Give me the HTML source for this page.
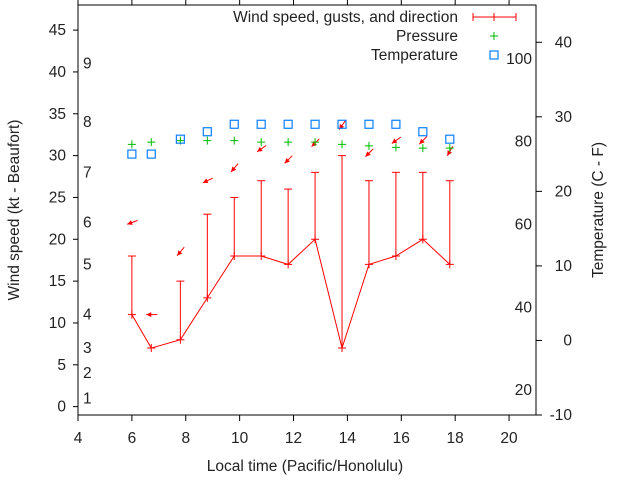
<!DOCTYPE html>
<html><head><meta charset="utf-8"><style>
body{margin:0;background:#fff}
svg{display:block;font-family:"Liberation Sans",sans-serif;font-size:15.5px;fill:#222}
</style></head><body>
<svg id="chart" width="640" height="480" viewBox="0 0 640 480" xmlns="http://www.w3.org/2000/svg"></svg>
<script>
const times=[6.0,6.72,7.8,8.8,9.8,10.8,11.8,12.8,13.8,14.8,15.8,16.8,17.8];
const speeds=[11,7,8,13,18,18,17,20,7,17,18,20,17];
const gusts=[18,null,15,23,25,27,26,28,30,27,28,28,27];
const pressure=[26.3,26.6,26.8,26.8,26.8,26.6,26.6,26.6,26.3,26.1,25.9,25.8,25.8];
const temperature=[25,25,27,28,29,29,29,29,29,29,29,28,27];
const arrowY=[22,11,18.5,27,28.5,30.8,29.5,31.5,33.6,30.3,31.8,31.8,30.5];
const arrowDir=[70,90,40,65,40,55,45,45,35,45,55,45,30];
const xTicks=[4,6,8,10,12,14,16,18,20];
const yTicks=[0,5,10,15,20,25,30,35,40,45];
const y2Ticks=[-10,0,10,20,30,40];
const fTicks=[20,40,60,80,100];
const beaufort=[1,2,3,4,5,6,7,8,9];
const beaufortKt=[1,4,7,11,17,22,28,34,41];

const NS='http://www.w3.org/2000/svg';
const svg=document.getElementById('chart');
const L=78,R=536,T=5,B=415;
const xs=v=>L+(v-4)/(21-4)*(R-L);
const ys=v=>B-(v+1)/(48+1)*(B-T);
const y2=v=>B-(v+10)/(45+10)*(B-T);
function mk(tag,attrs,parent){const e=document.createElementNS(NS,tag);for(const k in attrs)e.setAttribute(k,attrs[k]);(parent||svg).appendChild(e);return e;}
function txt(s,x,y,anchor,name){const t=mk('text',{x:x,y:y,'text-anchor':anchor||'middle'});t.textContent=s;

return t;}

const frame=mk('rect',{x:L,y:T,width:R-L,height:B-T,fill:'none',stroke:'#000','stroke-width':1});



xTicks.forEach(v=>{const x=xs(v);
 const t1=mk('line',{x1:x,y1:B,x2:x,y2:B+6,stroke:'#000'});
 
 
 const t2=mk('line',{x1:x,y1:T,x2:x,y2:T-6,stroke:'#000'});
 
 
 txt(String(v),x,443,'middle','x-tick-label');});
yTicks.forEach(v=>{const y=ys(v);
 const t=mk('line',{x1:L-5,y1:y,x2:L,y2:y,stroke:'#000'});
 
 
 txt(String(v),66,y+5,'end','y-tick-label');});
y2Ticks.forEach(v=>{const y=y2(v);
 const t=mk('line',{x1:R,y1:y,x2:R+6,y2:y,stroke:'#000'});
 
 
 txt(String(v),572,y+5,'end','y2-tick-label');});
fTicks.forEach(v=>{const c=(v-32)*5/9;txt(String(v),532,y2(c)+5,'end','fahrenheit-label');});
beaufort.forEach((b,i)=>{txt(String(b),83,ys(beaufortKt[i])+5,'start','beaufort-label');});

txt('Local time (Pacific/Honolulu)',305,471,'middle','x-axis-title');
const lt=txt('Wind speed (kt - Beaufort)',0,0,'middle','y-axis-title');lt.setAttribute('transform','translate(19,210) rotate(-90)');
const rt=txt('Temperature (C - F)',0,0,'middle','y2-axis-title');rt.setAttribute('transform','translate(603,210) rotate(-90)');

times.forEach((t,i)=>{if(gusts[i]==null)return;const x=xs(t);
 const g=mk('g',{stroke:'#f00','stroke-width':1});
 
 
 mk('line',{x1:x,y1:ys(speeds[i]),x2:x,y2:ys(gusts[i])},g);
 mk('line',{x1:x-4,y1:ys(gusts[i]),x2:x+4,y2:ys(gusts[i])},g);});
const pl=mk('polyline',{points:times.map((t,i)=>xs(t)+','+ys(speeds[i])).join(' '),fill:'none',stroke:'#f00','stroke-width':1});


times.forEach((t,i)=>{const x=xs(t),y=ys(speeds[i]);
 const p=mk('path',{d:`M${x-4},${y}H${x+4}M${x},${y-4}V${y+4}`,stroke:'#f00'});
 
 });
times.forEach((t,i)=>{const x=xs(t),y=ys(arrowY[i]);const a=arrowDir[i]*Math.PI/180;
 const dx=Math.sin(a),dy=-Math.cos(a);
 const hx=x-dx*5,hy=y-dy*5,tx=x+dx*6,ty=y+dy*6;
 const g=mk('g',{});
 
 
 mk('line',{x1:tx,y1:ty,x2:hx,y2:hy,stroke:'#f00','stroke-width':1},g);
 const px=-dy,py=dx;
 mk('polygon',{points:`${hx},${hy} ${hx+dx*5+px*2.5},${hy+dy*5+py*2.5} ${hx+dx*5-px*2.5},${hy+dy*5-py*2.5}`,fill:'#f00'},g);});
times.forEach((t,i)=>{const x=xs(t),y=y2(pressure[i]);
 const p=mk('path',{d:`M${x-4},${y}H${x+4}M${x},${y-4}V${y+4}`,stroke:'#0b0'});
 
 });
times.forEach((t,i)=>{const x=xs(t),y=y2(temperature[i]);
 const r=mk('rect',{x:x-4,y:y-4,width:8,height:8,fill:'none',stroke:'#0a7fff','stroke-width':1.2});
 
 });
const lg=mk('g',{});


txt('Wind speed, gusts, and direction',458,22,'end','legend-wind-label');
txt('Pressure',458,41,'end','legend-pressure-label');
txt('Temperature',458,60,'end','legend-temperature-label');
mk('path',{d:'M473,17H516M473,13V21M516,13V21M494,13V21',stroke:'#f00'},lg);
mk('path',{d:'M490,36H498M494,32V40',stroke:'#0b0'},lg);
mk('rect',{x:490,y:51,width:8,height:8,fill:'none',stroke:'#0a7fff','stroke-width':1.2},lg);
</script>
</body></html>
